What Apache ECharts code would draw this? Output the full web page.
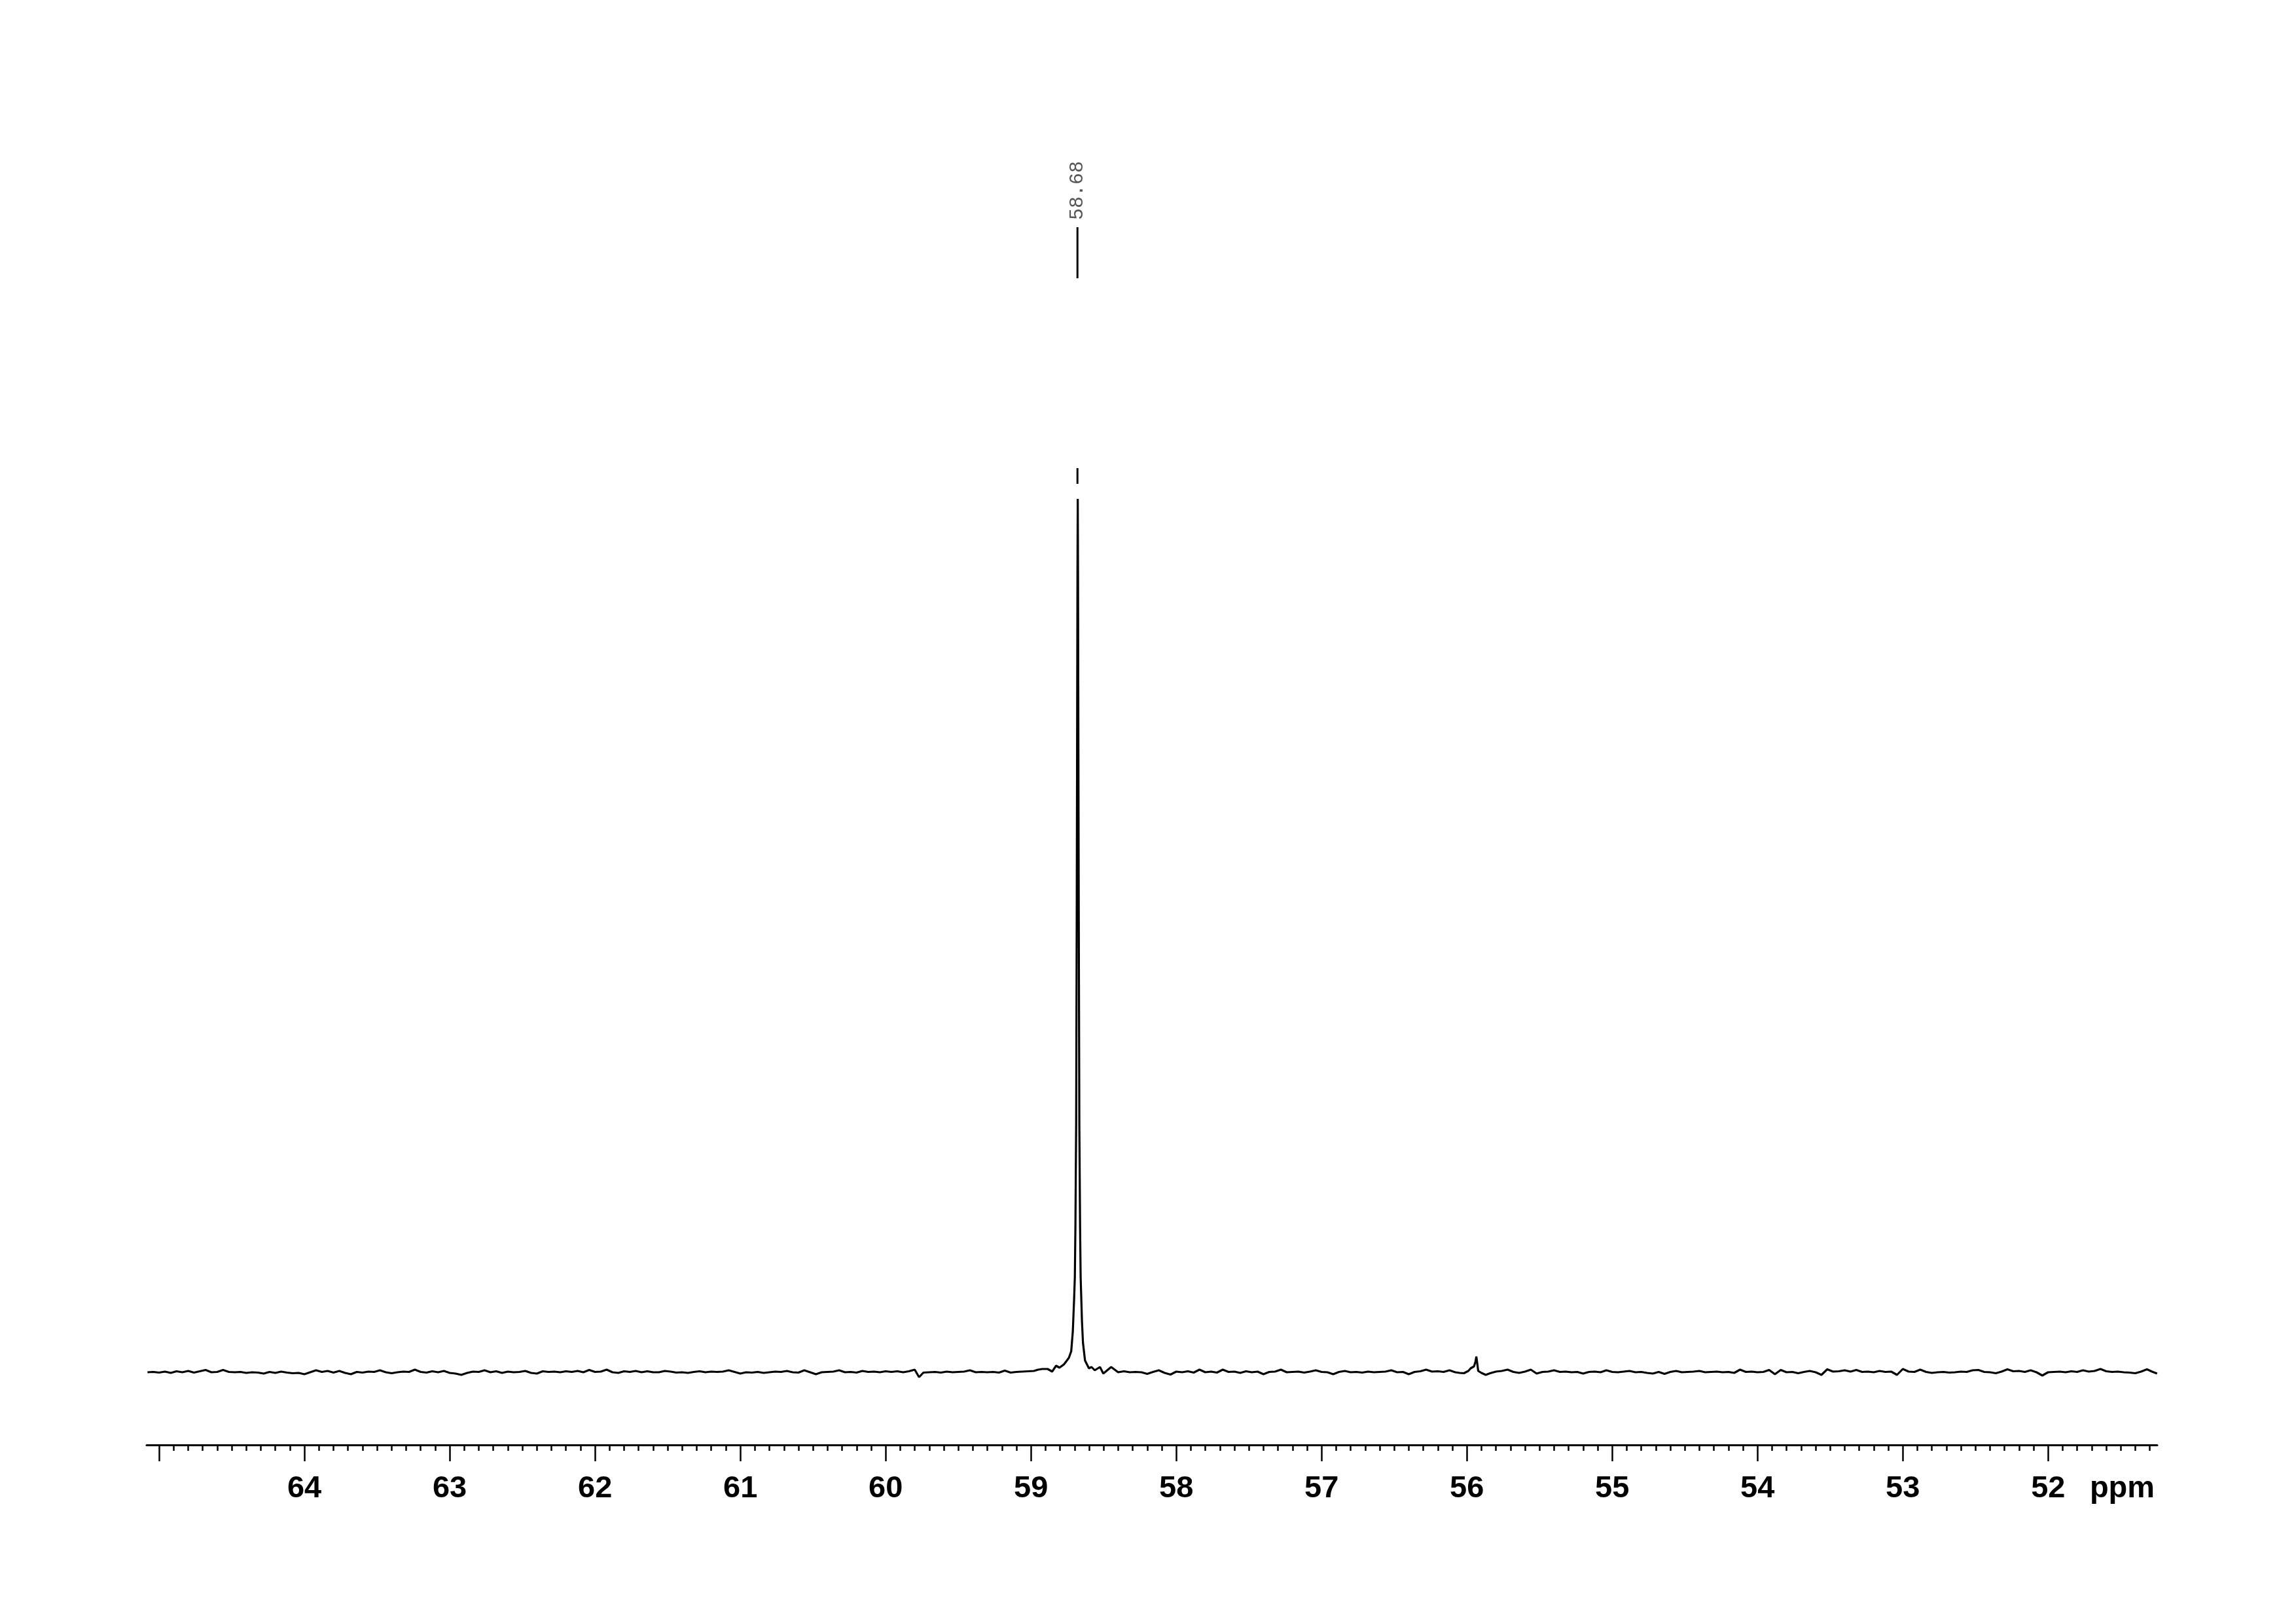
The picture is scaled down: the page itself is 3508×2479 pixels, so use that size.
<!DOCTYPE html>
<html><head><meta charset="utf-8">
<script src="https://cdn.jsdelivr.net/npm/echarts@6/dist/echarts.min.js"></script>
<style>html,body{margin:0;padding:0;background:#fff}#chart{width:3508px;height:2479px}</style>
</head><body><div id="chart"></div>
<script>
// ---- axis ----
const axisMin = 51.249, axisMax = 65.086;
const majorTicks = [65,64,63,62,61,60,59,58,57,56,55,54,53,52];
const tickLabels = [64,63,62,61,60,59,58,57,56,55,54,53,52];
const unitLabel = 'ppm';
const unitLabelAt = 51.49;
const peakLabels = [58.68];

// ---- spectrum (ppm, intensity) ----
const baselineA = [
[65.08,0],[65.04,0.5],[65.00,-0.5],[64.96,1],[64.92,-1],[64.88,1.5],[64.84,0],[64.80,2],[64.76,-0.5],[64.72,1.5],[64.68,3.5],[64.64,0],[64.60,0.5],[64.56,3.5],[64.52,0.5],[64.48,0],[64.44,0.5],[64.40,-1],[64.36,0],[64.32,-0.5],[64.28,-2],[64.24,0.5],[64.20,-1],[64.16,1],[64.12,-0.5],[64.08,-1.5],[64.04,-1],[64.00,-3],
[63.96,0],[63.92,3],[63.88,0.5],[63.84,2],[63.80,-0.5],[63.76,2],[63.72,-1],[63.68,-3],[63.64,0.5],[63.60,-0.5],[63.56,1],[63.52,0.5],[63.48,3],[63.44,0],[63.40,-1.5],[63.36,0],[63.32,1],[63.28,0.5],[63.24,4],[63.20,0.5],[63.16,-0.5],[63.12,1.5],[63.08,0],[63.04,2],[63.00,-1],
[62.96,-2],[62.92,-4],[62.88,-1],[62.84,1],[62.80,0.5],[62.76,3],[62.72,0],[62.68,1.5],[62.64,-1],[62.60,1],[62.56,0],[62.52,0.5],[62.48,2],[62.44,-1],[62.40,-2],[62.36,1.5],[62.32,0.5],[62.28,1],[62.24,0],[62.20,1.5],[62.16,0.5],[62.12,2],[62.08,0],[62.04,3.5],[62.00,0.5],
[61.96,1],[61.92,4],[61.88,0],[61.84,-1],[61.80,1.5],[61.76,0.5],[61.72,2],[61.68,0],[61.64,1.5],[61.60,0],[61.56,0],[61.52,2],[61.48,1],[61.44,-0.5],[61.40,0],[61.36,-1],[61.32,0.5],[61.28,1.5],[61.24,0],[61.20,1],[61.16,0.5],[61.12,1],[61.08,3],[61.04,0.5],[61.00,-2],
[60.96,0],[60.92,-0.5],[60.88,0.5],[60.84,-1],[60.80,0],[60.76,1],[60.72,0.5],[60.68,2],[60.64,0],[60.60,-0.5],[60.56,3],[60.52,0],[60.48,-3],[60.44,0],[60.40,0.5],[60.36,1],[60.32,3],[60.28,0],[60.24,0.5],[60.20,-0.5],[60.16,2],[60.12,0.5],[60.08,1],[60.04,0],[60.00,1.5],
[59.96,0.5],[59.92,1.5],[59.88,0],[59.84,1.5],[59.80,4],[59.77,-7.5],[59.74,-0.5],[59.70,0],[59.66,0.5],[59.62,-0.5],[59.58,1],[59.54,0],[59.50,0.5],[59.46,1],[59.42,3],[59.38,0],[59.34,0.5],[59.30,0],[59.26,0.5],[59.22,-0.5],[59.18,2.5],[59.14,-0.5],[59.10,0.5],[59.06,1],[59.02,1.5],[58.98,2],[58.95,4]
];
const peakMain = [
[58.921,5],[58.885,5],[58.854,1],[58.827,10],[58.804,7],[58.773,12],[58.739,22],[58.723,32],[58.712,62],[58.703,112],[58.698,145],[58.694,223],[58.689,377],[58.685,698],[58.6825,949],[58.680,1214],[58.678,1334],[58.676,1214],[58.6735,949],[58.671,698],[58.667,377],[58.662,223],[58.658,145],[58.649,78],[58.642,45],[58.628,18],[58.601,6],[58.583,8],[58.561,3],[58.525,8],[58.502,-2],[58.448,8]
];
const baselineB = [
[58.40,0],[58.36,1.5],[58.32,0],[58.28,0.5],[58.24,0],[58.20,-2.5],[58.16,0.5],[58.12,3],[58.08,-1],[58.04,-3.5],[58.00,1],
[57.96,0],[57.92,1.5],[57.88,-0.5],[57.84,4],[57.80,0],[57.76,1],[57.72,-0.5],[57.68,4],[57.64,0.5],[57.60,1],[57.56,-1],[57.52,1.5],[57.48,0],[57.44,1],[57.40,-3],[57.36,0.5],[57.32,1],[57.28,4],[57.24,0],[57.20,0.5],[57.16,1],[57.12,-0.5],[57.08,1],[57.04,3],[57.00,0.5],
[56.96,0],[56.92,-3],[56.88,0.5],[56.84,2],[56.80,0],[56.76,0.5],[56.72,-0.5],[56.68,1],[56.64,0],[56.60,0.5],[56.56,1],[56.52,3],[56.48,0],[56.44,0.5],[56.40,-3],[56.36,0.5],[56.32,1.5],[56.28,4],[56.24,1],[56.20,1.5],[56.16,0.5],[56.12,3],[56.08,0],[56.05,-1]
];
const peakSmall = [
[56.02,-1.5],[55.99,2],[55.974,6],[55.951,9],[55.941,16],[55.935,24],[55.929,14],[55.922,2],[55.900,-1],[55.870,-4]
];
const baselineC = [
[55.84,-1.5],[55.80,1],[55.76,2],[55.72,4],[55.68,0.5],[55.64,-1],[55.60,1],[55.56,4],[55.52,-2],[55.48,0.5],[55.44,1],[55.40,3],[55.36,0.5],[55.32,1],[55.28,0],[55.24,0.5],[55.20,-2],[55.16,0.5],[55.12,1],[55.08,0],[55.04,3],[55.00,0.5],
[54.96,0],[54.92,1],[54.88,2],[54.84,0],[54.80,0.5],[54.76,-1],[54.72,-2],[54.68,0.5],[54.64,-2.5],[54.60,0.5],[54.56,2],[54.52,0],[54.48,0.5],[54.44,1],[54.40,2],[54.36,0],[54.32,0.5],[54.28,1],[54.24,0],[54.20,0.5],[54.16,-1],[54.12,4],[54.08,0.5],[54.04,1],[54.00,0],
[53.96,0.5],[53.92,3.5],[53.88,-3],[53.84,3.5],[53.80,0],[53.76,0.5],[53.72,-1.5],[53.68,0.5],[53.64,2],[53.60,0],[53.56,-4],[53.52,4.5],[53.48,1],[53.44,1.5],[53.40,3],[53.36,1],[53.32,3.5],[53.28,0.5],[53.24,1],[53.20,0],[53.16,2],[53.12,0.5],[53.08,1],[53.04,-4],[53.00,5],
[52.96,1],[52.92,0.5],[52.88,4],[52.84,0.5],[52.80,-1],[52.76,0],[52.72,0.5],[52.68,-0.5],[52.64,0],[52.60,1],[52.56,0.5],[52.52,3],[52.48,3.5],[52.44,0.5],[52.40,0],[52.36,-1.5],[52.32,1],[52.28,4.5],[52.24,1.5],[52.20,2],[52.16,0.5],[52.12,3],[52.08,0],[52.04,-5],[52.00,0],
[51.96,0.5],[51.92,1],[51.88,0],[51.84,1.5],[51.80,0.5],[51.76,3],[51.72,1],[51.68,2],[51.64,5],[51.60,1.5],[51.56,0.5],[51.52,1],[51.48,0],[51.44,-0.5],[51.40,-1.5],[51.36,1],[51.32,4.5],[51.28,0.5],[51.25,-2]
];

const spectrum = baselineA.concat(peakMain, baselineB, peakSmall, baselineC);

const minorTicks = [];
for (let i = Math.ceil(axisMin * 10); i <= Math.floor(axisMax * 10); i++) {
  if (i % 10 !== 0) minorTicks.push(i / 10);
}

const chart = echarts.init(document.getElementById('chart'), null, {renderer: 'canvas'});
const FONT = '"Liberation Sans", Arial, Helvetica, sans-serif';

chart.setOption({
  backgroundColor: '#ffffff',
  animation: false,
  grid: {left: 224, right: 212, top: 762, bottom: 272, containLabel: false},
  xAxis: [
    {
      type: 'value', inverse: true, min: axisMin, max: axisMax, position: 'bottom', offset: 0,
      axisLine: {show: true, onZero: false, lineStyle: {color: '#000', width: 3}},
      axisTick: {show: true, customValues: majorTicks, length: 25, lineStyle: {color: '#000', width: 2.5}},
      axisLabel: {
        show: true, customValues: tickLabels.concat([unitLabelAt]), margin: 44,
        color: '#000', fontSize: 47, fontWeight: 'bold', fontFamily: FONT,
        formatter: v => (Math.abs(v - unitLabelAt) < 1e-6 ? unitLabel : String(Math.round(v)))
      },
      splitLine: {show: false}
    },
    {
      type: 'value', inverse: true, min: axisMin, max: axisMax, position: 'bottom', offset: 0,
      axisLine: {show: false, onZero: false},
      axisTick: {show: true, customValues: minorTicks, length: 9, lineStyle: {color: '#000', width: 2.5}},
      axisLabel: {show: false},
      splitLine: {show: false}
    }
  ],
  yAxis: {type: 'value', min: -111, max: 1334, show: false, splitLine: {show: false}},
  series: [{
    type: 'line', xAxisIndex: 0, data: spectrum, showSymbol: false, symbol: 'none',
    lineStyle: {color: '#000', width: 3.2}, silent: true, z: 3
  }]
});

// peak annotation (TopSpin style): rotated value, connector, and small tick above the peak
const gfx = [];
peakLabels.forEach(p => {
  const px = chart.convertToPixel({xAxisIndex: 0}, p);
  gfx.push({type: 'text', x: px, y: 291, rotation: Math.PI / 2,
    style: {text: p.toFixed(2), font: '30px "Liberation Mono", "DejaVu Sans Mono", monospace', fill: '#555', align: 'center', verticalAlign: 'middle'}});
  gfx.push({type: 'line', shape: {x1: px, y1: 347, x2: px, y2: 425}, style: {stroke: '#000', lineWidth: 3}});
  gfx.push({type: 'line', shape: {x1: px, y1: 715, x2: px, y2: 739}, style: {stroke: '#000', lineWidth: 3}});
});
chart.setOption({graphic: gfx});
</script>
</body></html>
